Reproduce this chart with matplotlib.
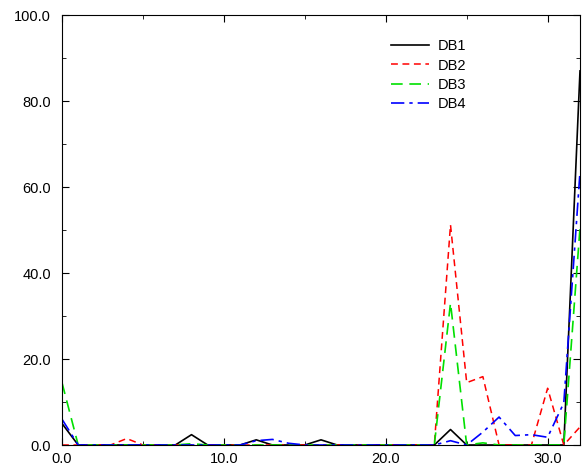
import matplotlib
matplotlib.use("Agg")
import matplotlib.pyplot as plt
from matplotlib.ticker import MultipleLocator, FormatStrFormatter
import numpy as np

plt.rcParams['font.family'] = ['Liberation Sans', 'DejaVu Sans']

# x positions 0..32
x = np.arange(33)

db1 = [5.0, 0, 0, 0, 0, 0, 0, 0, 2.4, 0, 0, 0, 1.2, 0, 0, 0, 1.2, 0, 0, 0,
       0, 0, 0, 0, 3.6, 0, 0, 0, 0, 0, 0, 0, 87.0]
db2 = [0, 0, 0, 0, 1.5, 0, 0, 0, 0, 0, 0, 0, 0, 0, 0, 0, 0, 0, 0, 0,
       0, 0, 0, 0, 51.2, 14.5, 15.9, 0, 0, 0, 13.2, 0, 4.2]
db3 = [14.5, 0, 0, 0, 0, 0, 0, 0, 0.3, 0, 0, 0, 0, 0, 0, 0, 0, 0, 0, 0,
       0, 0, 0, 0, 33.0, 0, 0.5, 0, 0, 0, 0, 0, 50.5]
db4 = [6.0, 0, 0, 0, 0, 0, 0, 0, 0, 0, 0, 0, 1.0, 1.3, 0.4, 0, 0, 0, 0, 0,
       0, 0, 0, 0, 1.0, 0, 3.0, 6.5, 2.2, 2.4, 1.8, 9.8, 63.5]

fig = plt.figure(figsize=(5.83, 4.65), dpi=100)
ax = fig.add_axes([62 / 583, 20 / 465, 518 / 583, 430 / 465])

ax.plot(x, db1, color='black', lw=1.2, ls='-', label='DB1')
ax.plot(x, db2, color='red', lw=1.1, ls=(0, (4.5, 3)), label='DB2')
ax.plot(x, db3, color='#00e000', lw=1.2, ls=(0, (7, 4)), label='DB3')
ax.plot(x, db4, color='blue', lw=1.2, ls=(0, (8, 3, 2, 3)), label='DB4')

ax.set_xlim(0, 32)
ax.set_ylim(0, 100)
ax.xaxis.set_major_locator(MultipleLocator(10))
ax.xaxis.set_minor_locator(MultipleLocator(5))
ax.yaxis.set_major_locator(MultipleLocator(20))
ax.yaxis.set_minor_locator(MultipleLocator(10))
ax.xaxis.set_major_formatter(FormatStrFormatter('%.1f'))
ax.yaxis.set_major_formatter(FormatStrFormatter('%.1f'))
ax.tick_params(which='both', direction='in', top=True, right=True, labelsize=10.5)
ax.tick_params(which='major', length=5)
ax.tick_params(which='minor', length=3)
ax.tick_params(axis='y', which='major', pad=8)
ax.tick_params(axis='x', which='major', pad=5)

ax.legend(loc='upper left', bbox_to_anchor=(0.61, 0.974), frameon=False,
          fontsize=10.5, handlelength=2.6, handletextpad=0.6, labelspacing=0.36)

fig.savefig('out.png', dpi=100)
